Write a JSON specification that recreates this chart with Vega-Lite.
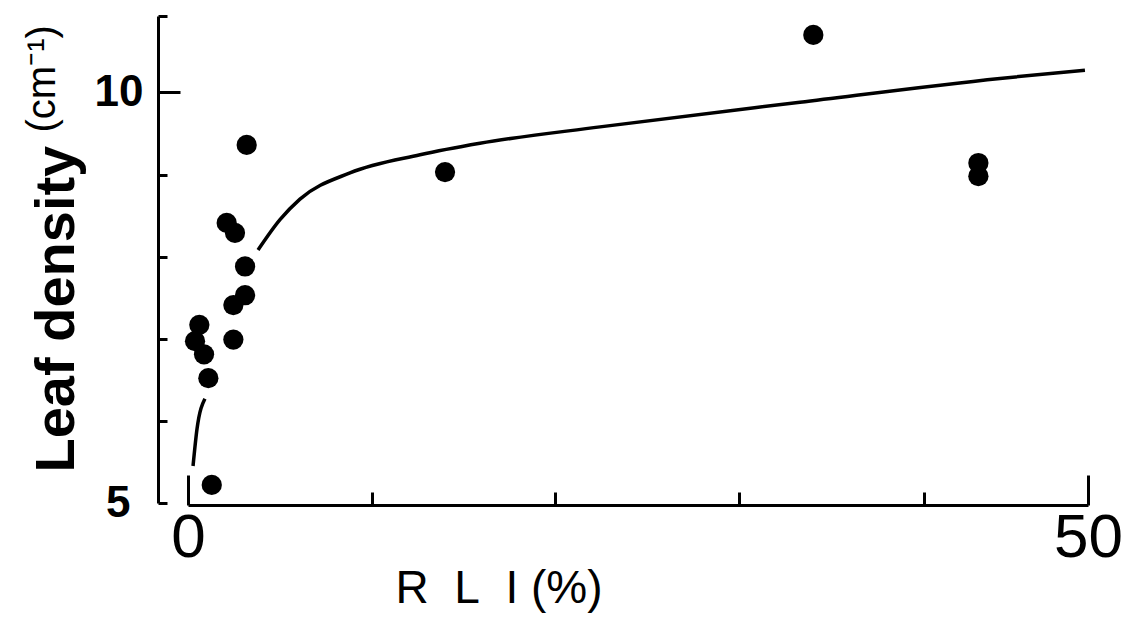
{
  "$schema": "https://vega.github.io/schema/vega-lite/v6.json",
  "autosize": {"type": "none"},
  "width": 900,
  "height": 487,
  "padding": {"left": 188, "top": 16, "right": 41, "bottom": 114},
  "background": "white",
  "config": {"view": {"stroke": null}, "font": "Liberation Sans"},
  "datasets": {
    "points": [
      {"rli": 3.26, "density": 9.36},
      {"rli": 2.15, "density": 8.41},
      {"rli": 2.61, "density": 8.29},
      {"rli": 3.17, "density": 7.88},
      {"rli": 3.17, "density": 7.53},
      {"rli": 2.52, "density": 7.41},
      {"rli": 2.52, "density": 6.99},
      {"rli": 0.63, "density": 7.17},
      {"rli": 0.39, "density": 6.97},
      {"rli": 0.89, "density": 6.81},
      {"rli": 1.13, "density": 6.52},
      {"rli": 1.32, "density": 5.22},
      {"rli": 14.28, "density": 9.03},
      {"rli": 34.74, "density": 10.70},
      {"rli": 43.91, "density": 9.14},
      {"rli": 43.91, "density": 8.98}
    ],
    "curve": [
      {"seg": "a", "rli": 0.28, "density": 5.45},
      {"seg": "a", "rli": 0.50, "density": 5.90},
      {"seg": "a", "rli": 0.94, "density": 6.27},
      {"seg": "b", "rli": 3.89, "density": 8.08},
      {"seg": "b", "rli": 5.11, "density": 8.45},
      {"seg": "b", "rli": 6.22, "density": 8.70},
      {"seg": "b", "rli": 9.0, "density": 9.02},
      {"seg": "b", "rli": 12.89, "density": 9.24},
      {"seg": "b", "rli": 16.22, "density": 9.38},
      {"seg": "b", "rli": 22.89, "density": 9.58},
      {"seg": "b", "rli": 34.0, "density": 9.88},
      {"seg": "b", "rli": 45.11, "density": 10.17},
      {"seg": "b", "rli": 49.83, "density": 10.27}
    ]
  },
  "layer": [
    {
      "data": {"name": "curve"},
      "mark": {"type": "line", "color": "black", "strokeWidth": 3.5, "interpolate": "monotone", "clip": false},
      "encoding": {
        "x": {
          "field": "rli", "type": "quantitative",
          "scale": {"domain": [0, 50], "nice": false, "zero": false},
          "axis": {
            "orient": "bottom", "offset": 2, "values": [0, 10.2, 20.4, 30.6, 40.9, 50],
            "grid": false,
            "domainColor": "black", "domainWidth": 3,
            "tickColor": "black", "tickWidth": 3,
            "tickSize": {"condition": {"test": "datum.value == 0 || datum.value == 50", "value": -30}, "value": -13},
            "labelExpr": "datum.value == 0 || datum.value == 50 ? format(datum.value, 'd') : ''",
            "labelFontSize": 62, "labelFontWeight": "normal", "labelColor": "black",
            "labelPadding": 32, "labelFlush": false,
            "title": "R\u00a0\u00a0L\u00a0\u00a0I\u00a0(%)", "titleFontSize": 46, "titleFontWeight": "normal", "titleColor": "black",
            "titleAlign": "left", "titleBaseline": "alphabetic", "titleX": 207, "titleY": 97
          }
        },
        "y": {
          "field": "density", "type": "quantitative",
          "scale": {"domain": [5, 10.93], "nice": false, "zero": false},
          "axis": {
            "orient": "left", "offset": 30, "values": [5, 6, 7, 8, 9, 10, 10.93],
            "grid": false,
            "domainColor": "black", "domainWidth": 3,
            "tickColor": "black", "tickWidth": 3,
            "tickSize": {"condition": {"test": "datum.value == 10", "value": -22}, "value": -9},
            "labelExpr": "datum.value == 5 || datum.value == 10 ? datum.label : ''",
            "labelFontSize": 44, "labelFontWeight": "bold", "labelColor": "black",
            "labelPadding": 37, "labelFlush": false,
            "title": "Leaf density", "titleFontSize": 56, "titleFontWeight": "bold", "titleColor": "black",
            "titleAngle": 270, "titleAlign": "left", "titleBaseline": "alphabetic",
            "titleX": -85, "titleY": 456
          }
        },
        "detail": {"field": "seg", "type": "nominal"}
      }
    },
    {
      "data": {"name": "points"},
      "mark": {"type": "circle", "color": "black", "opacity": 1, "size": 410, "clip": false},
      "encoding": {
        "x": {"field": "rli", "type": "quantitative"},
        "y": {
          "field": "density", "type": "quantitative",
          "axis": {
            "orient": "right", "domain": false, "ticks": false, "labels": false, "grid": false,
            "title": "(cm⁻¹)", "titleFontSize": 40, "titleFontWeight": "normal", "titleColor": "black",
            "titleAngle": 270, "titleAlign": "left", "titleBaseline": "alphabetic",
            "titleX": -1034, "titleY": 116
          }
        }
      }
    }
  ],
  "resolve": {"axis": {"y": "independent"}}
}
